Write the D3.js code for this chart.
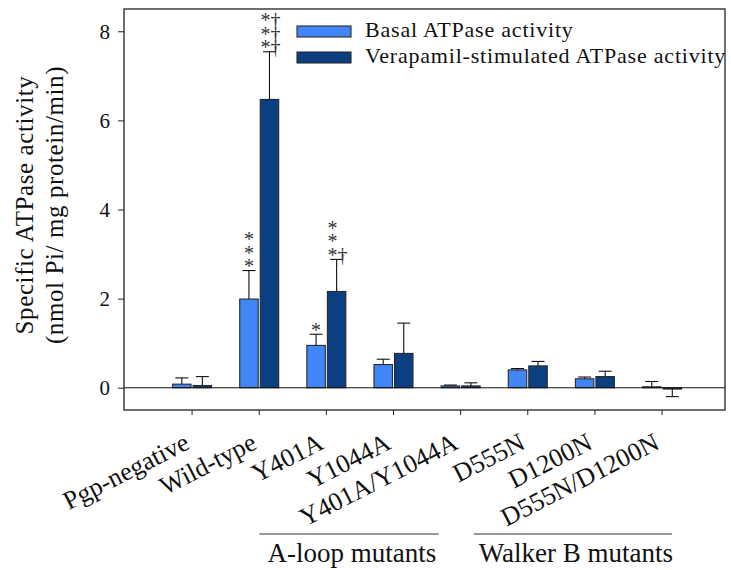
<!DOCTYPE html>
<html>
<head>
<meta charset="utf-8">
<script src="https://cdn.jsdelivr.net/npm/d3@7"></script>
</head>
<body style="margin:0;padding:0;background:#ffffff">
<svg id="chart" width="731" height="570" style="display:block"></svg>
<script>
// Pgp ATPase activity per construct, basal vs. verapamil-stimulated
const categories = ["Pgp-negative", "Wild-type", "Y401A", "Y1044A", "Y401A/Y1044A",
                    "D555N", "D1200N", "D555N/D1200N"];
const seriesNames = ["Basal ATPase activity", "Verapamil-stimulated ATPase activity"];
const basal      = [0.08, 1.99, 0.95, 0.52, 0.04, 0.40, 0.20, 0.02];
const basalErr   = [0.14, 0.64, 0.25, 0.12, 0.02, 0.03, 0.04, 0.12];
const verapamil  = [0.05, 6.47, 2.16, 0.77, 0.04, 0.49, 0.25, -0.03];
const verapamilErr = [0.20, 1.07, 0.72, 0.68, 0.07, 0.10, 0.12, 0.17];
const yTicks = [0, 2, 4, 6, 8];
// significance marks, rows listed top to bottom
const marks = [
  { category: "Wild-type", series: 0, rows: ["*", "*", "*"] },
  { category: "Wild-type", series: 1, rows: ["*†", "*†", "*†"] },
  { category: "Y401A",     series: 0, rows: ["*"] },
  { category: "Y401A",     series: 1, rows: ["*", "*", "*†"] }
];
const groups = [
  { name: "A-loop mutants",   first: "Y401A", last: "Y401A/Y1044A" },
  { name: "Walker B mutants", first: "D555N", last: "D555N/D1200N" }
];
const colors = ["#4186f6", "#0a3f82"];

const FONT = "'Liberation Serif', 'Times New Roman', serif";
const svg = d3.select("#chart");
const plotL = 124, plotR = 725, plotT = 9, plotB = 410;

const x = d3.scaleBand().domain(categories).range([plotL, plotR])
  .paddingInner(0).paddingOuter(0.476).align(0.54);
const xs = d3.scaleBand().domain([0, 1]).range([-19.5, 19.5]).paddingInner(0.1);
const y = d3.scaleLinear().domain([-0.5, 8.5]).range([plotB, plotT]);

const cx = c => x(c) + x.bandwidth() / 2;

const rows = categories.map((c, i) => [
  { c, s: 0, v: basal[i], e: basalErr[i] },
  { c, s: 1, v: verapamil[i], e: verapamilErr[i] }
]).flat();

// bars
svg.append("g").selectAll("rect").data(rows).join("rect")
  .attr("x", d => cx(d.c) + xs(d.s))
  .attr("width", xs.bandwidth())
  .attr("y", d => Math.min(y(d.v), y(0)))
  .attr("height", d => Math.abs(y(d.v) - y(0)))
  .attr("fill", d => colors[d.s])
  .attr("stroke", "#2a2a2a").attr("stroke-width", 1.1);

// one-sided error bars in the direction of the bar
const eb = svg.append("g").attr("stroke", "#111").attr("stroke-width", 1.1);
rows.forEach(d => {
  const xc = cx(d.c) + xs(d.s) + xs.bandwidth() / 2;
  const tip = d.v >= 0 ? d.v + d.e : d.v - d.e;
  eb.append("line").attr("x1", xc).attr("x2", xc).attr("y1", y(d.v)).attr("y2", y(tip));
  eb.append("line").attr("x1", xc - 6.5).attr("x2", xc + 6.5).attr("y1", y(tip)).attr("y2", y(tip));
});

// zero line
svg.append("line").attr("x1", plotL).attr("x2", plotR).attr("y1", y(0)).attr("y2", y(0))
  .attr("stroke", "#111").attr("stroke-width", 1.1);

// frame
svg.append("rect").attr("x", plotL).attr("y", plotT).attr("width", plotR - plotL).attr("height", plotB - plotT)
  .attr("fill", "none").attr("stroke", "#222").attr("stroke-width", 1.3);

// y axis
const yAxis = svg.append("g").attr("transform", `translate(${plotL},0)`)
  .call(d3.axisLeft(y).tickValues(yTicks).tickSize(6).tickPadding(8).tickFormat(d3.format("d")));
yAxis.select(".domain").remove();
yAxis.selectAll("line").attr("stroke", "#222");
yAxis.selectAll("text").style("font-family", FONT).style("font-size", "21px").style("fill", "#111");

// x axis ticks and rotated labels
const xAxis = svg.append("g").attr("transform", `translate(0,${plotB})`)
  .call(d3.axisBottom(x).tickSize(5).tickFormat(""));
xAxis.select(".domain").remove();
xAxis.selectAll("line").attr("stroke", "#222");
svg.append("g").selectAll("text").data(categories).join("text")
  .attr("transform", d => `translate(${cx(d) - 1},${448}) rotate(-27)`)
  .attr("text-anchor", "end")
  .style("font-family", FONT).style("font-size", "26px").style("fill", "#111")
  .text(d => d);

// significance marks stacked above the error bars (one text per stack)
const mk = svg.append("g");
const rowGap = 13.5;
marks.forEach(m => {
  const i = categories.indexOf(m.category);
  const v = m.series === 0 ? basal[i] + basalErr[i] : verapamil[i] + verapamilErr[i];
  const xc = cx(m.category) + xs(m.series) + xs.bandwidth() / 2;
  const withDagger = m.rows.some(r => r.includes("†"));
  const n = m.rows.length;
  const tx = withDagger ? xc - 9 : xc;
  const t = mk.append("text")
    .attr("text-anchor", withDagger ? "start" : "middle")
    .style("font-family", FONT).style("font-size", "20px").style("fill", "#333");
  m.rows.forEach((r, k) => {
    t.append("tspan")
      .attr("x", tx)
      .attr("y", y(v) - 7.5 - (n - 1 - k) * rowGap + 10)
      .text(r);
  });
});

// y axis title
const yt = svg.append("text").attr("transform", "translate(0,205) rotate(-90)")
  .attr("text-anchor", "middle")
  .style("font-family", FONT).style("font-size", "25px").style("fill", "#111")
  .style("letter-spacing", "0.6px");
yt.append("tspan").attr("x", 0).attr("y", 33).text("Specific ATPase activity");
yt.append("tspan").attr("x", 0).attr("y", 63).text("(nmol Pi/ mg protein/min)");

// legend
const lg = svg.append("g");
seriesNames.forEach((name, i) => {
  const ly = 26 + i * 26;
  lg.append("rect").attr("x", 297).attr("y", ly).attr("width", 54).attr("height", 11)
    .attr("fill", colors[i]).attr("stroke", "#2a2a2a").attr("stroke-width", 1.1);
  lg.append("text").attr("x", 365).attr("y", ly + 11)
    .style("font-family", FONT).style("font-size", "22px").style("fill", "#111")
    .style("letter-spacing", "0.8px").text(name);
});

// group brackets under the category labels
const groupSpan = [[-67, -22], [-54, 10]];
groups.forEach((g, i) => {
  const x0 = cx(g.first) + groupSpan[i][0];
  const x1 = cx(g.last) + groupSpan[i][1];
  svg.append("line").attr("x1", x0).attr("x2", x1).attr("y1", 534).attr("y2", 534)
    .attr("stroke", "#333").attr("stroke-width", 1);
  svg.append("text").attr("x", (x0 + x1) / 2 + 3).attr("y", 562)
    .attr("text-anchor", "middle")
    .style("font-family", FONT).style("font-size", "27px").style("fill", "#111")
    .text(g.name);
});
</script>
</body>
</html>
